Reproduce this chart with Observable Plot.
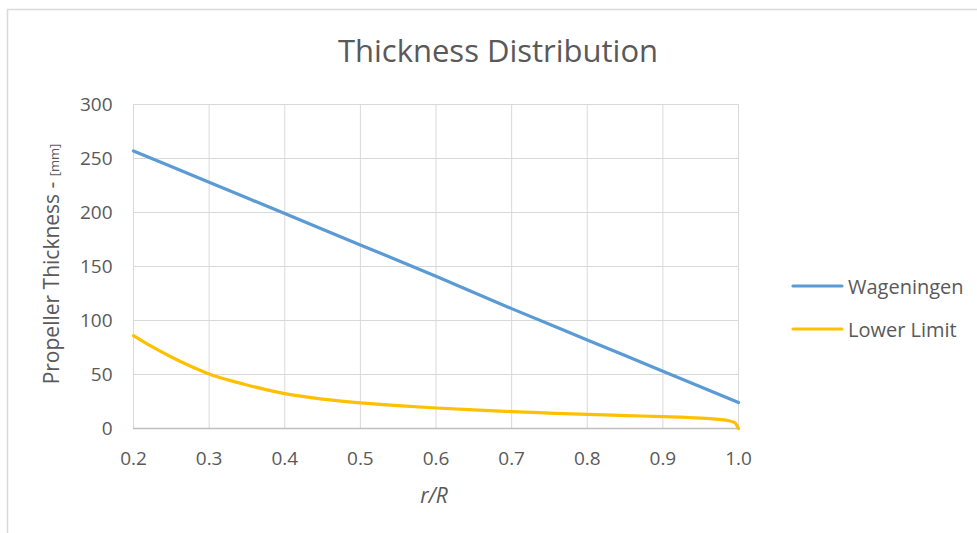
<!DOCTYPE html>
<html>
<head>
<meta charset="utf-8">
<script src="https://cdn.jsdelivr.net/npm/d3@7"></script>
<script src="https://cdn.jsdelivr.net/npm/@observablehq/plot@0.6"></script>
<style>
  html, body { margin: 0; padding: 0; background: #fff; }
  #chart { position: relative; width: 977px; height: 533px; overflow: hidden; }
</style>
</head>
<body>
<div id="chart"></div>
<script>
// Data
const rR = [0.2, 0.3, 0.4, 0.5, 0.6, 0.7, 0.8, 0.9, 1.0];
const wageningen = [257, 228, 199, 170, 141, 111, 82, 53, 24];

const rRLower = [0.2, 0.225, 0.25, 0.275, 0.3, 0.325, 0.35, 0.375, 0.4, 0.45, 0.5, 0.55, 0.6, 0.65, 0.7, 0.75, 0.8, 0.85, 0.9, 0.95, 0.97, 0.985, 0.995, 1.0];
const lowerLimit = [86, 75.5, 66.2, 57.8, 50.5, 45, 40.3, 36, 32.3, 27.2, 23.7, 21.1, 19, 17.2, 15.7, 14.3, 13, 12, 11, 9.6, 8.6, 7.5, 5.5, 0];

const xTicks = [0.2, 0.3, 0.4, 0.5, 0.6, 0.7, 0.8, 0.9, 1.0];
const yTicks = [0, 50, 100, 150, 200, 250, 300];
const seriesNames = ["Wageningen", "Lower Limit"];
const seriesColors = ["#5b9bd5", "#ffc000"];

const data = [
  ...rR.map((x, i) => ({x, y: wageningen[i], s: seriesNames[0]})),
  ...rRLower.map((x, i) => ({x, y: lowerLimit[i], s: seriesNames[1]}))
];

const W = 977, H = 533;
const FONT = "'Open Sans', sans-serif";
const TXT = "#595959";

const plot = Plot.plot({
  width: W,
  height: H,
  marginLeft: 133,
  marginRight: 239,
  marginTop: 104,
  marginBottom: 105,
  style: {fontSize: "19px", color: TXT, fontFamily: FONT, background: "white"},
  x: {domain: [0.2, 1.0], ticks: xTicks, tickFormat: d3.format(".1f"), label: null},
  y: {domain: [0, 300], ticks: yTicks, label: null},
  color: {domain: seriesNames, range: seriesColors},
  marks: [
    Plot.ruleX(xTicks, {stroke: "#d9d9d9", strokeWidth: 1}),
    Plot.ruleY(yTicks.filter(d => d > 0), {stroke: "#d9d9d9", strokeWidth: 1}),
    Plot.ruleY([0], {stroke: "#bfbfbf", strokeWidth: 1.3}),
    Plot.axisX({ticks: xTicks, tickSize: 0, tickPadding: 23, fontSize: 19, tickFormat: d3.format(".1f"), fill: TXT, label: null}),
    Plot.axisY({ticks: yTicks, tickSize: 0, tickPadding: 21, fontSize: 19, fill: TXT, label: null}),
    Plot.line(data, {x: "x", y: "y", z: "s", stroke: "s", strokeWidth: 3.2, curve: "monotone-x", strokeLinecap: "round"})
  ]
});

const root = document.getElementById("chart");
root.appendChild(plot);

const svg = d3.select(plot);
// chart border
svg.insert("rect", ":first-child")
  .attr("x", 7.5).attr("y", 9.5).attr("width", W + 20).attr("height", H + 20)
  .attr("fill", "none").attr("stroke", "#d9d9d9").attr("stroke-width", 1.5);

// title
svg.append("text")
  .attr("x", 498).attr("y", 62)
  .attr("text-anchor", "middle")
  .attr("fill", TXT)
  .style("font-family", FONT)
  .style("font-size", "31px")
  .text("Thickness Distribution");

// x axis label
svg.append("text")
  .attr("x", 434).attr("y", 503)
  .attr("text-anchor", "middle")
  .attr("fill", TXT)
  .style("font-family", FONT)
  .style("font-size", "21px")
  .style("font-style", "italic")
  .text("r/R");

// y axis label
const yl = svg.append("text")
  .attr("transform", "translate(59,264) rotate(-90)")
  .attr("text-anchor", "middle")
  .attr("fill", TXT)
  .style("font-family", FONT)
  .style("font-size", "21px");
yl.append("tspan").text("Propeller Thickness - ");
yl.append("tspan").style("font-size", "13px").text("[mm]");

// legend
const legendY = [286, 329];
seriesNames.forEach((name, i) => {
  svg.append("line")
    .attr("x1", 793).attr("x2", 842)
    .attr("y1", legendY[i]).attr("y2", legendY[i])
    .attr("stroke", seriesColors[i]).attr("stroke-width", 3.2).attr("stroke-linecap", "round");
  svg.append("text")
    .attr("x", 848).attr("y", legendY[i] + 8)
    .attr("text-anchor", "start")
    .attr("fill", TXT)
    .style("font-family", FONT)
    .style("font-size", "20px")
    .text(name);
});
</script>
</body>
</html>
